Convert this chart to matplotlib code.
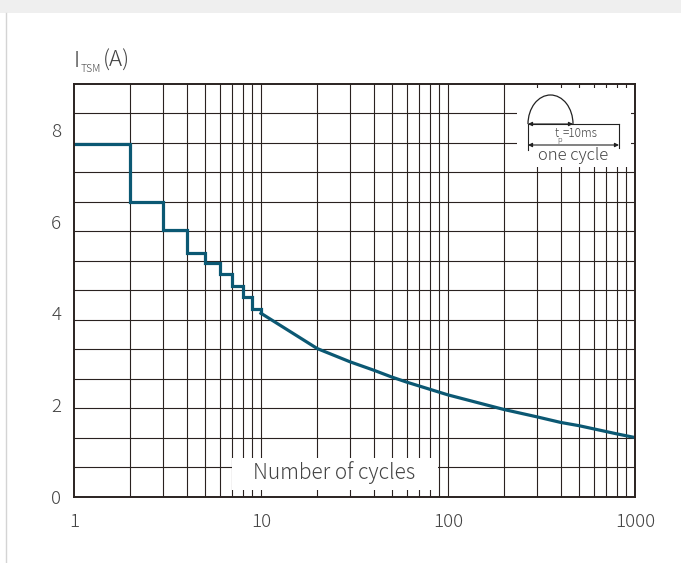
import numpy as np
import matplotlib
matplotlib.use('Agg')
import matplotlib.pyplot as plt
from matplotlib.patches import Rectangle, Arc, FancyArrowPatch

plt.rcParams['font.family'] = ['Noto Sans CJK JP', 'DejaVu Sans']
plt.rcParams['font.weight'] = 'light'

# stepped part (one value per whole cycle count, 1..10)
step_cycles = [1, 2, 3, 4, 5, 6, 7, 8, 9, 10]
step_current = [7.7, 6.43, 5.81, 5.32, 5.10, 4.85, 4.60, 4.36, 4.10, 4.00]

# smooth part from 10 to 1000 cycles
curve_cycles = [10, 20, 30, 40, 50, 60, 100, 200, 300, 400, 500, 800, 1000]
curve_current = [4.00, 3.23, 2.94, 2.76, 2.61, 2.50, 2.22, 1.90, 1.74, 1.62, 1.55, 1.37, 1.29]

x_ticks = [1, 10, 100, 1000]
x_tick_labels = ['1', '10', '100', '1000']
y_ticks = [0, 2, 4, 6, 8]

line_col = '#0b5873'
grid_col = '#2a2220'
text_col = '#444444'

fig = plt.figure(figsize=(6.81, 5.63), dpi=100)
fig.patch.set_facecolor('white')

ax = fig.add_axes([74 / 681, 1 - 496.7 / 563, (635 - 74) / 681, (496.7 - 84) / 563])
ax.set_xscale('log')
ax.set_xlim(1, 1000)
ax.set_ylim(0, 9)

# grid: every cycle count, and 14 equal horizontal divisions
for d in [1, 10, 100]:
    for m in range(2, 11):
        ax.axvline(d * m, color=grid_col, lw=0.8, zorder=1)
for yv in np.linspace(0, 9, 15)[1:-1]:
    ax.axhline(yv, color=grid_col, lw=0.8, zorder=1)

ax.plot(step_cycles, step_current, drawstyle='steps-post', color=line_col, lw=2.3,
        solid_joinstyle='miter', zorder=3)
ax.plot(curve_cycles, curve_current, color=line_col, lw=2.3, zorder=3)

ax.set_xticks(x_ticks)
ax.set_xticklabels(x_tick_labels)
ax.xaxis.set_minor_locator(matplotlib.ticker.NullLocator())
ax.set_yticks(y_ticks)
ax.tick_params(axis='both', length=0, labelsize=13.5, labelcolor=text_col)
ax.tick_params(axis='x', pad=12)
ax.tick_params(axis='y', pad=9)
for s in ax.spines.values():
    s.set_color(grid_col)
    s.set_linewidth(1.4)
    s.set_zorder(4)

# overlay in pixel coordinates for page decoration and the inset sketch
ov = fig.add_axes([0, 0, 1, 1])
ov.set_xlim(0, 681)
ov.set_ylim(563, 0)
ov.axis('off')

ov.add_patch(Rectangle((0, 0), 681, 13, color='#efefef', lw=0))
ov.plot([5.5, 5.5], [13, 563], color='#d4d4d4', lw=1)

# white boxes over the grid
ov.add_patch(Rectangle((517, 88), 114, 79, color='white', lw=0, zorder=2))
ov.add_patch(Rectangle((232, 458), 206, 32, color='white', lw=0, zorder=2))

ov.text(334, 473, 'Number of cycles', ha='center', va='center', fontsize=15,
        color=text_col, zorder=3)

# y label I_TSM(A)
ov.text(74, 67, 'I', ha='left', va='baseline', fontsize=16, color=text_col)
ov.text(81, 72, 'TSM', ha='left', va='baseline', fontsize=7.5, color=text_col)
ov.text(103, 67, '(A)', ha='left', va='baseline', fontsize=16, color=text_col)

# inset: half-wave pulse and one cycle
ink = '#222222'
ov.add_patch(Arc((550.5, 124), 45, 58, theta1=180, theta2=360, color=ink, lw=0.9, zorder=3))
ov.plot([528, 619], [124, 124], color=ink, lw=0.8, zorder=3)
ov.plot([528, 528], [124, 150], color=ink, lw=0.8, zorder=3)
ov.plot([619, 619], [124, 148], color=ink, lw=0.8, zorder=3)
ov.add_patch(FancyArrowPatch((528, 124), (573, 124), arrowstyle='<|-|>', mutation_scale=6,
                             color=ink, lw=0.8, shrinkA=0, shrinkB=0, zorder=3))
ov.add_patch(FancyArrowPatch((528, 145), (619, 145), arrowstyle='<|-|>', mutation_scale=6,
                             color=ink, lw=0.8, shrinkA=0, shrinkB=0, zorder=3))
ov.text(557, 137, 't', ha='center', va='baseline', fontsize=8.5, color=text_col, zorder=3)
ov.text(560, 142.5, 'p', ha='center', va='baseline', fontsize=5.5, color=text_col, zorder=3)
ov.text(563, 137, '=10ms', ha='left', va='baseline', fontsize=8.5, color=text_col, zorder=3)
ov.text(573, 156, 'one cycle', ha='center', va='center', fontsize=12, color=text_col, zorder=3)

fig.savefig('out.png', dpi=100)
